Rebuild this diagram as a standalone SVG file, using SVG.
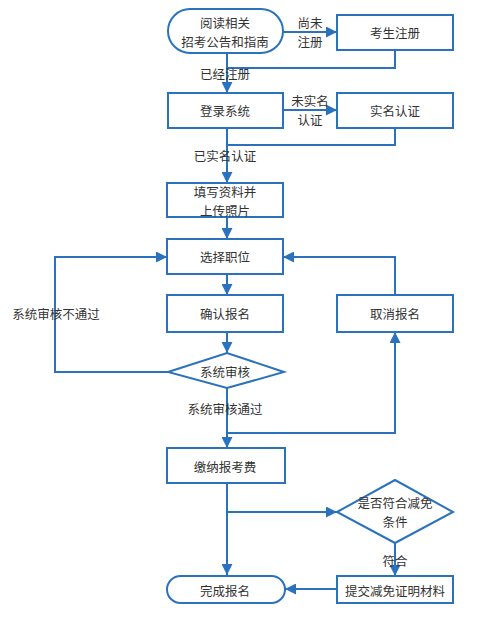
<svg xmlns="http://www.w3.org/2000/svg" width="484" height="617" viewBox="0 0 484 617">
<defs>
<marker id="ah" viewBox="0 0 10 10" refX="10" refY="5" markerWidth="5.5" markerHeight="5.5" orient="auto" markerUnits="strokeWidth">
<path d="M0,0 L10,5 L0,10 z" fill="#2a72bd"/>
</marker>
<style>
.n{fill:#fff;stroke:#2a72bd;stroke-width:2}
.t{font-family:"Noto Sans CJK SC","Liberation Sans",sans-serif;font-size:12.5px;fill:#333;text-anchor:middle;dominant-baseline:central}
.c{fill:none;stroke:#2a72bd;stroke-width:2}
.a{marker-end:url(#ah)}
</style>
</defs>
<rect width="484" height="617" fill="#fff"/>
<g id="connectors">
<path class="c a" d="M283,32 H337"/>
<path class="c a" d="M227,53 V93"/>
<path class="c" d="M395,50 V68 H227"/>
<path class="c a" d="M283,110 H337"/>
<path class="c a" d="M227,128 V183"/>
<path class="c" d="M395,128 V145 H227"/>
<path class="c a" d="M227,217 V239"/>
<path class="c a" d="M227,274 V295"/>
<path class="c a" d="M227,332 V353"/>
<path class="c a" d="M168,372 H55 V257 H167"/>
<path class="c a" d="M395,295 V257 H283"/>
<path class="c a" d="M227,388 V448"/>
<path class="c a" d="M227,433 H395 V332"/>
<path class="c a" d="M227,483 V575"/>
<path class="c a" d="M227,512 H337"/>
<path class="c a" d="M395,543 V576"/>
<path class="c a" d="M337,589 H285"/>
</g>
<g id="labels">
<text class="t" x="310" y="22">尚未</text>
<text class="t" x="310" y="41">注册</text>
<text class="t" x="225" y="73">已经注册</text>
<text class="t" x="310" y="100">未实名</text>
<text class="t" x="310" y="119">认证</text>
<text class="t" x="225" y="155">已实名认证</text>
<text class="t" x="56" y="313">系统审核不通过</text>
<text class="t" x="225" y="408">系统审核通过</text>
<text class="t" x="395" y="560">符合</text>
</g>
<g id="n1"><rect class="n" x="168" y="9" width="115" height="44" rx="22"/><text class="t" x="225" y="22">阅读相关</text><text class="t" x="225" y="41">招考公告和指南</text></g>
<g id="n2"><rect class="n" x="337" y="15" width="116" height="35"/><text class="t" x="395" y="32">考生注册</text></g>
<g id="n3"><rect class="n" x="168" y="93" width="115" height="35"/><text class="t" x="225" y="110">登录系统</text></g>
<g id="n4"><rect class="n" x="337" y="93" width="116" height="35"/><text class="t" x="395" y="110">实名认证</text></g>
<g id="n5"><rect class="n" x="167" y="183" width="116" height="34"/><text class="t" x="225" y="191">填写资料并</text><text class="t" x="225" y="210">上传照片</text></g>
<g id="n6"><rect class="n" x="167" y="239" width="116" height="35"/><text class="t" x="225" y="256">选择职位</text></g>
<g id="n7"><rect class="n" x="167" y="295" width="116" height="37"/><text class="t" x="225" y="313">确认报名</text></g>
<g id="n8"><rect class="n" x="337" y="295" width="116" height="37"/><text class="t" x="395" y="313">取消报名</text></g>
<g id="n9"><polygon class="n" points="168,372 227,353 284,372 227,388"/><text class="t" x="225" y="371">系统审核</text></g>
<g id="n10"><rect class="n" x="167" y="448" width="118" height="35"/><text class="t" x="225" y="466">缴纳报考费</text></g>
<g id="n11"><polygon class="n" points="337,512 395,480 453,512 395,543"/><text class="t" x="395" y="502">是否符合减免</text><text class="t" x="395" y="521">条件</text></g>
<g id="n12"><rect class="n" x="337" y="576" width="116" height="27"/><text class="t" x="395" y="590">提交减免证明材料</text></g>
<g id="n13"><rect class="n" x="167" y="576" width="118" height="27" rx="13.5"/><text class="t" x="225" y="590">完成报名</text></g>
</svg>
